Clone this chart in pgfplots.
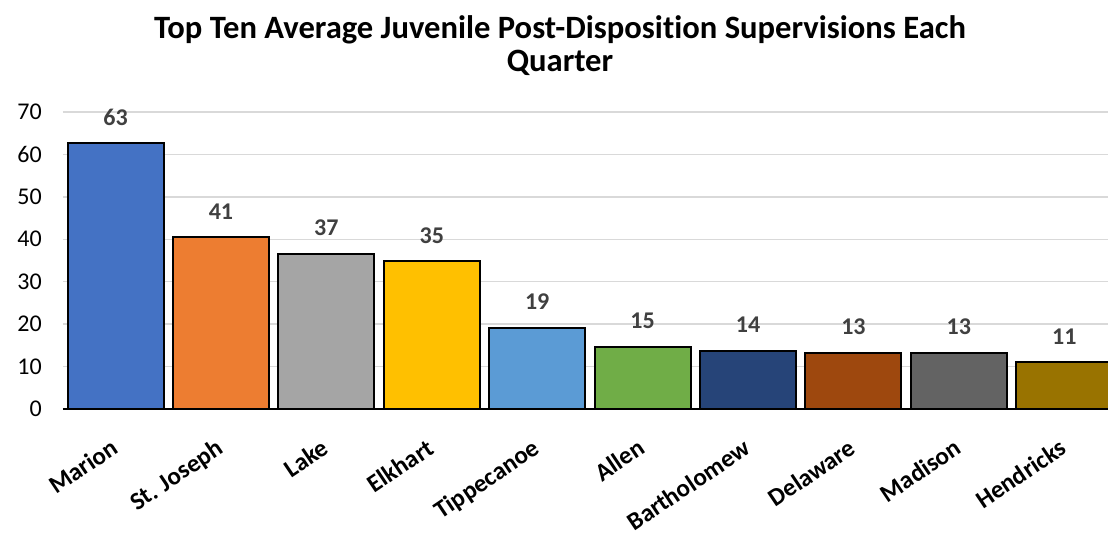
\documentclass[border=0pt]{standalone}
\usepackage{pgfplots}
\pgfplotsset{compat=1.18}
\usepackage{fontspec}
\setmainfont{Carlito}[Ligatures=NoCommon]
\usetikzlibrary{calc}

\definecolor{c1}{HTML}{4472C4}
\definecolor{c2}{HTML}{ED7D31}
\definecolor{c3}{HTML}{A5A5A5}
\definecolor{c4}{HTML}{FFC000}
\definecolor{c5}{HTML}{5B9BD5}
\definecolor{c6}{HTML}{70AD47}
\definecolor{c7}{HTML}{264478}
\definecolor{c8}{HTML}{9E480E}
\definecolor{c9}{HTML}{636363}
\definecolor{c10}{HTML}{997300}
\definecolor{labgray}{HTML}{404040}
\definecolor{gridgray}{HTML}{D9D9D9}

\pgfplotsset{
  mybar/.style={fill=#1, draw=black, line width=1pt, bar shift=0pt},
}

\begin{document}
\begin{tikzpicture}
\begin{axis}[
    name=ax,
    scale only axis,
    width=527.1pt,
    height=148.5pt,
    ybar,
    bar width=48pt,
    xmin=-0.5, xmax=9.5,
    ymin=0, ymax=70,
    ytick={0,10,...,70},
    xtick={0,...,9},
    xticklabels={Marion, St. Joseph, Lake, Elkhart, Tippecanoe, Allen, Bartholomew, Delaware, Madison, Hendricks},
    axis x line*=bottom,
    axis y line*=left,
    y axis line style={draw=none},
    x axis line style={line width=1pt, black, -},
    major tick length=0pt,
    ymajorgrids,
    major grid style={gridgray, line width=0.75pt},
    tick label style={font=\fontsize{12}{14}\selectfont},
    yticklabel style={xshift=-7pt},
    xticklabel style={font=\fontsize{12.5}{14}\selectfont\bfseries, xshift=-2pt, yshift=-9.5pt, rotate=34, anchor=north east},
    /pgf/number format/assume math mode=true,
    nodes near coords={\pgfmathprintnumber[fixed,precision=0]{\pgfplotspointmeta}},
    every node near coord/.append style={font=\fontsize{12}{14}\selectfont\bfseries, text=labgray, anchor=south, yshift=5pt},
]
\addplot[mybar=c1] coordinates {(0,62.7)};
\addplot[mybar=c2] coordinates {(1,40.6)};
\addplot[mybar=c3] coordinates {(2,36.6)};
\addplot[mybar=c4] coordinates {(3,34.9)};
\addplot[mybar=c5] coordinates {(4,19.2)};
\addplot[mybar=c6] coordinates {(5,14.7)};
\addplot[mybar=c7] coordinates {(6,13.75)};
\addplot[mybar=c8] coordinates {(7,13.3)};
\addplot[mybar=c9] coordinates {(8,13.3)};
\addplot[mybar=c10] coordinates {(9,11.0)};
\end{axis}
\node[font=\fontsize{16.3}{16.5}\selectfont\bfseries, align=center] at ($(ax.south west)+(248.6pt,181.75pt)$)
  {Top Ten Average Juvenile Post-Disposition Supervisions Each\\Quarter};
\pgfresetboundingbox
\path ($(ax.south west)+(-31.4pt,-63pt)$) rectangle ++(554pt,267.5pt);
\end{tikzpicture}
\end{document}
